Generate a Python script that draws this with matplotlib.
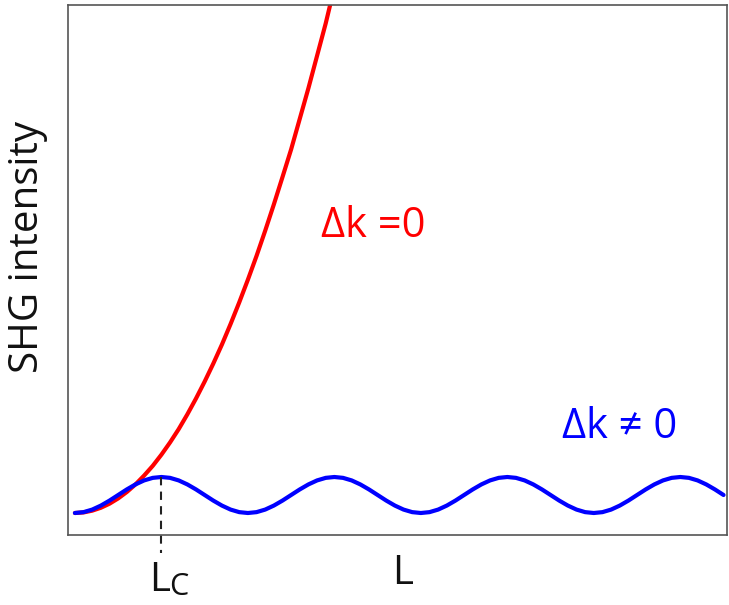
import matplotlib
matplotlib.use("Agg")
import matplotlib.pyplot as plt

plt.rcParams['font.family'] = ['Open Sans', 'DejaVu Sans']

# Propagation length L in units of coherence length Lc
L_red = [round(0.1 * i, 1) for i in range(31)]
I_red = [0.0, 0.016, 0.065, 0.146, 0.259, 0.405, 0.583, 0.794, 1.04, 1.31,
         1.62, 1.96, 2.33, 2.74, 3.18, 3.65, 4.15, 4.68, 5.25, 5.85,
         6.48, 7.14, 7.84, 8.57, 9.33, 10.1, 10.95, 11.8, 12.7, 13.6, 14.6]

L_blue = [round(0.1 * i, 1) for i in range(76)]
_half = [0.0, 0.024, 0.095, 0.206, 0.345, 0.5, 0.655, 0.794, 0.905, 0.976,
         1.0, 0.976, 0.905, 0.794, 0.655, 0.5, 0.345, 0.206, 0.095, 0.024]
I_blue = (_half * 4)[:76]

Lc = 1.0
label_red = "Δk =0"
label_blue = "Δk ≠ 0"
ylabel = "SHG intensity"

fig = plt.figure(figsize=(7.29, 6.05), dpi=100)
ax = fig.add_axes([68/729, 1 - 535/605, 659/729, 530/605])

ax.plot(L_red, I_red, color='#ff0000', lw=3, solid_capstyle='round')
ax.plot(L_blue, I_blue, color='#0000ff', lw=3, solid_capstyle='round')
ax.plot([Lc, Lc], [1.0, -1.1], color='#222222', lw=1.5, ls=(0, (4, 3)), clip_on=False)

ax.set_xlim(-0.08, 7.54)
ax.set_ylim(-0.611, 14.11)
ax.set_xticks([])
ax.set_yticks([])
for s in ax.spines.values():
    s.set_color('#555555')
    s.set_linewidth(1.2)

ax.text(2.84, 7.67, label_red, color='#ff0000', fontsize=30, ha='left', va='baseline')
ax.text(5.63, 2.08, label_blue, color='#0000ff', fontsize=30, ha='left', va='baseline')

ax.text(0.86, -2.17, 'L', fontsize=29, ha='left', va='baseline', color='#111111', clip_on=False)
ax.text(1.09, -2.27, 'C', fontsize=22, ha='left', va='baseline', color='#111111', clip_on=False)
ax.text(3.79, -1.97, 'L', fontsize=29, ha='center', va='baseline', color='#111111', clip_on=False)
fig.text(28/729, 1 - 247/605, ylabel, fontsize=29, rotation=90,
         ha='center', va='center', color='#111111')

fig.savefig('out.png', dpi=100)
